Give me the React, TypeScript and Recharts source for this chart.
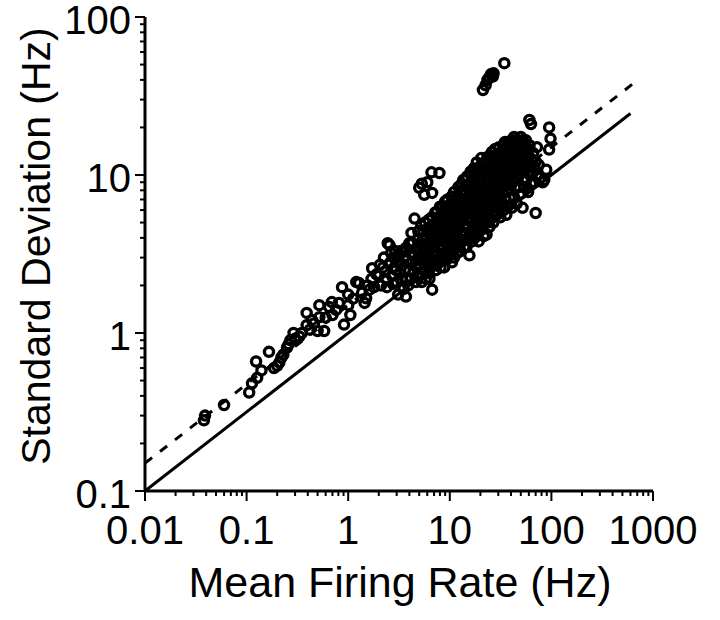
import { ScatterChart, Scatter, XAxis, YAxis } from "recharts";

const FONT = '"Liberation Sans", Arial, Helvetica, sans-serif';

// tick labels
const rateTicks = [0.01, 0.1, 1, 10, 100, 1000];
const sdTicks = [0.1, 1, 10, 100];
const minorSteps = [2, 3, 4, 5, 6, 7, 8, 9];

// [mean firing rate, standard deviation] per cell
const lowRateCells: [number, number][] = [
  [0.038, 0.28], [0.039, 0.3], [0.06, 0.35], [0.106, 0.42], [0.113, 0.48],
  [0.127, 0.52], [0.14, 0.58], [0.124, 0.66], [0.166, 0.76], [0.186, 0.6],
  [0.2, 0.62], [0.21, 0.65], [0.22, 0.7], [0.23, 0.73], [0.25, 0.81],
  [0.26, 0.85], [0.27, 0.9], [0.29, 1.0], [0.3, 0.92], [0.33, 0.95],
  [0.35, 1.0], [0.39, 1.12], [0.39, 1.34], [0.42, 1.05], [0.44, 1.21],
  [0.46, 1.15], [0.5, 1.03], [0.52, 1.26], [0.52, 1.5], [0.58, 1.03],
  [0.6, 1.25], [0.65, 1.46], [0.69, 1.57], [0.7, 1.3], [0.76, 1.4],
  [0.81, 1.55], [0.87, 1.95], [0.91, 1.13],
];

const midRateCells: [number, number][] = [
  [1.0, 1.5], [1.0, 1.75], [1.05, 1.3], [1.12, 1.65], [1.2, 2.1], [1.28, 2.07],
  [1.37, 1.8], [1.45, 1.55], [1.5, 1.66], [1.55, 2.0], [1.62, 1.88], [1.72, 2.57],
  [1.7, 2.2], [1.8, 1.95], [1.9, 2.35],
  [2.0, 2.3], [2.1, 2.0], [2.05, 2.7], [2.2, 2.6], [2.3, 2.45], [2.35, 2.2],
  [2.25, 3.0], [2.4, 1.95], [2.45, 3.7],
  [2.55, 3.6], [2.6, 2.8], [2.7, 2.3], [2.65, 3.2], [2.8, 3.0], [2.75, 2.05], [2.85, 2.6],
  [2.9, 3.3], [2.95, 2.5], [3.0, 2.1], [3.05, 2.8], [3.1, 1.75], [3.15, 3.1], [3.2, 2.4],
  [3.3, 3.3], [3.35, 2.2], [3.4, 2.7], [3.5, 1.9], [3.55, 3.0], [3.6, 2.5], [3.7, 1.7],
  [3.7, 3.45], [3.75, 2.2], [3.8, 2.9],
  [3.9, 2.0], [4.0, 2.5], [4.0, 3.7], [4.1, 3.2], [4.15, 2.2], [4.2, 4.3], [4.25, 2.8],
  [4.3, 3.7], [4.4, 2.4], [4.45, 3.1], [4.5, 5.3],
  [4.6, 3.4], [4.65, 2.1], [4.7, 2.6], [4.8, 3.9], [4.85, 2.9], [4.9, 4.4],
];

const coreCells: [number, number][] = [
  [5.0, 2.3], [5.0, 3.3], [5.1, 2.7], [5.2, 3.6], [5.25, 4.8], [5.3, 2.1], [5.3, 3.0],
  [5.4, 3.9], [5.5, 4.4], [5.5, 2.5], [5.6, 2.9], [5.65, 3.5], [5.7, 5.0], [5.8, 3.3],
  [5.8, 2.2], [5.9, 4.1], [6.0, 2.7], [6.0, 3.7], [6.1, 4.6], [6.15, 3.1], [6.2, 5.2], [6.2, 2.4],
  [6.3, 2.2], [6.3, 3.0], [6.4, 3.5], [6.5, 4.5], [6.5, 2.6], [6.6, 4.0], [6.7, 5.4],
  [6.7, 1.88], [6.8, 3.6], [6.85, 2.9], [6.9, 4.9], [7.0, 4.2], [7.0, 2.7], [7.1, 3.3],
  [7.2, 5.8], [7.2, 3.8],
  [7.3, 2.5], [7.4, 5.8], [7.4, 4.4], [7.5, 3.1], [7.6, 4.8], [7.7, 3.8], [7.8, 2.8],
  [7.9, 5.3], [7.9, 3.4], [8.0, 4.4], [8.0, 6.3], [8.1, 2.6], [8.2, 5.2], [8.2, 3.9],
  [8.3, 3.0], [8.3, 4.7],
  [8.5, 6.3], [8.5, 3.6], [8.6, 4.0], [8.7, 5.5], [8.8, 2.6], [8.8, 4.5], [8.9, 3.2],
  [9.0, 4.8], [9.0, 6.8], [9.1, 3.8], [9.2, 5.5], [9.3, 2.9], [9.4, 4.2], [9.4, 6.0],
  [9.5, 3.4], [9.5, 7.0],
  [9.7, 3.7], [9.8, 5.2], [9.9, 4.5], [10, 6.5], [10, 3.1], [10.2, 4.0], [10.3, 5.6],
  [10.4, 7.3], [10.5, 2.8], [10.5, 4.8], [10.7, 3.5], [10.8, 6.2], [10.9, 5.0], [11, 4.2],
  [11, 7.8], [11, 3.0],
  [11.3, 5.6], [11.4, 3.7], [11.5, 6.8], [11.6, 4.6], [11.8, 3.2], [11.9, 5.3], [12, 7.4],
  [12, 4.0], [12.2, 8.4], [12.3, 6.1], [12.4, 3.5], [12.5, 4.9],
  [12.7, 5.7], [12.8, 3.3], [12.9, 7.0], [13, 4.4], [13.1, 8.8], [13.2, 6.4], [13.3, 3.8],
  [13.4, 5.2], [13.6, 9.3], [13.7, 4.7], [13.8, 6.9], [13.9, 3.5], [14, 7.8], [14, 5.8],
  [14.2, 4.2], [14.3, 8.6], [14.5, 6.3], [14.6, 3.5], [14.7, 5.2], [14.8, 9.8], [15, 7.2],
  [15, 4.7], [15.2, 3.9], [15.4, 8.1], [15.5, 5.7], [15.6, 3.1], [15.8, 6.6], [16, 10.5], [16, 4.4],
  [16.2, 7.6], [16.4, 5.1], [16.5, 9.0], [16.6, 3.8], [16.8, 6.2], [17, 8.4], [17, 4.6],
  [17.2, 11], [17.3, 5.6], [17.5, 7.2], [17.6, 4.0], [17.8, 9.6], [18, 6.5], [18, 5.0],
  [18.2, 8.0], [18.4, 12], [18.5, 4.3], [18.6, 10.2], [18.8, 5.8], [19, 7.2], [19, 9.0],
  [19.2, 3.8], [19.4, 6.3], [19.5, 11.2], [19.6, 4.9], [19.8, 8.3], [20, 5.5], [20, 10],
];

const denseCoreCells: [number, number][] = [
  [6.1, 3.4], [6.4, 4.2], [6.9, 3.1], [7.1, 4.6], [7.5, 2.7], [7.7, 5.4], [8.1, 3.5],
  [8.4, 5.0], [8.7, 3.0], [9.0, 4.0], [9.2, 6.3], [9.6, 4.9], [9.8, 3.2],
  [10.1, 5.3], [10.6, 3.9], [11.2, 6.4], [11.7, 4.2], [12.1, 5.9], [12.6, 3.8], [13, 7.9],
  [13.5, 4.2], [13.9, 6.1], [14.4, 4.8], [14.9, 8.5], [15.3, 5.3], [15.9, 7.1], [16.3, 4.1],
  [16.7, 8.0], [17.1, 5.9], [17.7, 10.2], [18.1, 4.6], [18.7, 7.6], [19.1, 5.2], [19.7, 9.4],
  [20.1, 6.4], [20.8, 10.4], [21.3, 6.8], [21.9, 5.0], [22.5, 9.8], [23.3, 7.5], [23.9, 11.2],
  [24.4, 5.6], [25, 8.8], [25.7, 13.2], [26.2, 7.0], [26.9, 10], [27.4, 9.0], [28.2, 12.8],
  [28.9, 8.3], [29.6, 11.8], [30.2, 7.8], [31, 13.8], [31.8, 9.4], [32.8, 11.4], [33.8, 13.4],
  [34.8, 9.8], [35.8, 12.2], [36.8, 14.4], [37.4, 9.2], [38.6, 11.8], [39.6, 16.4], [40.6, 10.4],
  [41.6, 12.6], [42.8, 15], [43.8, 11.4], [45, 13.2], [46.2, 14.6], [47.4, 12.4], [48.8, 10.8],
  [50.4, 14.2], [51.6, 15.4], [53.4, 11.2], [54.6, 13.6], [57.4, 12], [59.4, 14.6],
];

const highRateCells: [number, number][] = [
  [20.2, 7.0], [20.4, 12.8], [20.5, 4.5], [20.6, 9.2], [20.8, 6.2], [21, 8.0], [21, 11],
  [21.2, 5.0], [21.4, 7.5], [21.6, 4.1], [21.8, 9.8], [22, 6.6], [22, 12], [22.3, 8.6], [22.4, 5.4],
  [22.6, 10.6], [22.8, 7.2], [23, 4.2], [23, 9.2], [23.2, 6.0], [23.5, 13], [23.5, 7.9],
  [23.8, 5.0], [24, 10.4], [24, 8.6], [24.2, 6.6], [24.5, 11.8], [24.6, 4.7], [24.8, 9.0], [25, 6.0],
  [25.2, 7.4], [25.5, 12.6], [25.6, 5.3], [25.8, 10], [26, 8.2], [26, 14], [26.3, 6.6],
  [26.5, 11], [26.6, 9.2], [26.8, 5.0], [27, 12.6], [27.2, 7.6], [27.5, 5.8], [27.6, 10.4],
  [27.8, 8.6], [28, 14.6], [28, 6.4],
  [28.4, 11.6], [28.6, 9.4], [28.8, 7.0], [29, 13.5], [29, 5.6], [29.4, 10.6], [29.6, 8.0],
  [30, 12.2], [30, 6.2], [30.4, 9.0], [30.6, 15], [30.8, 7.2], [31, 11], [31.4, 5.4],
  [31.6, 13.2], [32, 8.4], [32, 10],
  [32.4, 6.6], [32.6, 12], [33, 14.2], [33, 9.2], [33.4, 7.6], [33.6, 11], [34, 6.0],
  [34, 15.6], [34.4, 12.6], [34.6, 8.6], [35, 10.2], [35, 16.2], [35.4, 7.0], [35.6, 13.6],
  [36, 9.4], [36, 5.6],
  [36.4, 11.8], [36.6, 15], [37, 8.0], [37, 10.6], [37.6, 13], [37.8, 6.4], [38, 12.2],
  [38, 16.2], [38.4, 9.6], [38.8, 7.2], [39, 14], [39.4, 11], [40, 8.6], [40, 15.6],
  [40.4, 12.6], [40.8, 6.2],
  [41, 10], [41.5, 14.4], [42, 9.2], [42, 16.6], [42.6, 12], [43, 7.2], [43, 17.4],
  [43.6, 13.6], [44, 10.6], [44.4, 8.2], [45, 15.2], [45, 11.8], [45.6, 6.6], [46, 13],
  [46.4, 9.6], [47, 16.4], [47, 11],
  [47.6, 14], [48, 8.4], [48.6, 12.4], [49, 15.6], [49.4, 10.2], [50, 17.4], [50, 7.6],
  [50.6, 13.4], [51, 11.4], [52, 16.6], [52, 6.2], [52.6, 9.2], [53, 14.8], [54, 12.2],
  [54, 8.4], [55, 15.6], [55, 10.6],
  [56, 16.6], [56.6, 12.8], [57, 9.4], [58, 14], [58, 11.2], [59, 7.8], [60, 13], [60, 10.2],
  [61, 15.4], [62, 11.6], [63, 8.8], [64, 12.6], [65, 10.4], [66, 13.8], [68, 11.2], [68, 9.0],
  [70, 12.2], [70, 5.75], [72, 15], [72, 10], [75, 11.6], [78, 9.6],
  [82, 9.0], [85, 9.3], [89, 10.8], [95, 14.5], [95, 20], [98, 17], [60.7, 22.3], [63, 21],
];

const burstCells: [number, number][] = [
  [6.6, 10.4], [7.9, 10.3], [6.0, 9.0], [5.0, 8.3], [5.6, 7.5], [6.7, 7.7], [5.3, 8.8],
  [21.2, 34.5], [22.5, 37], [23.5, 40], [24.5, 41.5], [25.6, 43.6], [26.5, 42], [27, 44], [34.4, 51],
];

// sd = sqrt(rate) (Poisson) and the fitted line
const poissonLine = [
  { rate: 0.01, sd: 0.1 },
  { rate: 600, sd: 24.5 },
];
const fitLine = [
  { rate: 0.01, sd: 0.15 },
  { rate: 700, sd: 39.7 },
];

const cells = [
  ...lowRateCells,
  ...midRateCells,
  ...coreCells,
  ...denseCoreCells,
  ...highRateCells,
  ...burstCells,
].map(([rate, sd]) => ({ rate, sd }));

const xTickValues = [
  ...rateTicks,
  ...rateTicks.slice(0, -1).flatMap((t) => minorSteps.map((m) => t * m)),
];
const yTickValues = [
  ...sdTicks,
  ...sdTicks.slice(0, -1).flatMap((t) => minorSteps.map((m) => t * m)),
];

const RateTick = (props: any) => {
  const { x, y, payload } = props;
  const major = rateTicks.includes(payload.value);
  return (
    <g>
      <line x1={x} x2={x} y1={y} y2={y + (major ? 10 : 5)} stroke="#000" strokeWidth={2} />
      {major && (
        <text x={x} y={y + 53} textAnchor="middle" fontSize={40} fontFamily={FONT} fill="#000">
          {String(payload.value)}
        </text>
      )}
    </g>
  );
};

const SdTick = (props: any) => {
  const { x, y, payload } = props;
  const major = sdTicks.includes(payload.value);
  return (
    <g>
      <line x1={x} x2={x - (major ? 10 : 5)} y1={y} y2={y} stroke="#000" strokeWidth={2} />
      {major && (
        <text x={x - 14} y={y + 17} textAnchor="end" fontSize={40} fontFamily={FONT} fill="#000">
          {String(payload.value)}
        </text>
      )}
    </g>
  );
};

const XTitle = () => (
  <text x={400} y={597} textAnchor="middle" fontSize={43} fontFamily={FONT} fill="#000">
    Mean Firing Rate (Hz)
  </text>
);

const YTitle = () => (
  <text
    x={50}
    y={246}
    transform="rotate(-90, 50, 246)"
    textAnchor="middle"
    fontSize={41}
    fontFamily={FONT}
    fill="#000"
  >
    Standard Deviation (Hz)
  </text>
);

const Ring = (props: any) => (
  <circle cx={props.cx} cy={props.cy} r={4.6} fill="none" stroke="#000" strokeWidth={3.3} />
);

const NoDot = () => <g />;

export default function App() {
  return (
    <div style={{ position: "absolute", left: 0, top: 0, background: "#fff" }}>
      <ScatterChart width={720} height={620} margin={{ top: 17, right: 67, bottom: 0, left: 0 }}>
        <XAxis
          type="number"
          dataKey="rate"
          scale="log"
          domain={[0.01, 1000]}
          allowDataOverflow
          ticks={xTickValues}
          interval={0}
          tick={RateTick}
          tickLine={false}
          tickSize={0}
          tickMargin={0}
          axisLine={{ stroke: "#000", strokeWidth: 3 }}
          height={129}
          label={<XTitle />}
        />
        <YAxis
          type="number"
          dataKey="sd"
          scale="log"
          domain={[0.1, 100]}
          allowDataOverflow
          ticks={yTickValues}
          interval={0}
          tick={SdTick}
          tickLine={false}
          tickSize={0}
          tickMargin={0}
          axisLine={{ stroke: "#000", strokeWidth: 3 }}
          width={145}
          label={<YTitle />}
        />
        <Scatter
          data={poissonLine}
          line={{ stroke: "#000", strokeWidth: 3 }}
          lineType="joint"
          shape={NoDot}
          isAnimationActive={false}
        />
        <Scatter
          data={fitLine}
          line={{ stroke: "#000", strokeWidth: 3, strokeDasharray: "9 10" }}
          lineType="joint"
          shape={NoDot}
          isAnimationActive={false}
        />
        <Scatter data={cells} shape={Ring} isAnimationActive={false} />
      </ScatterChart>
    </div>
  );
}
